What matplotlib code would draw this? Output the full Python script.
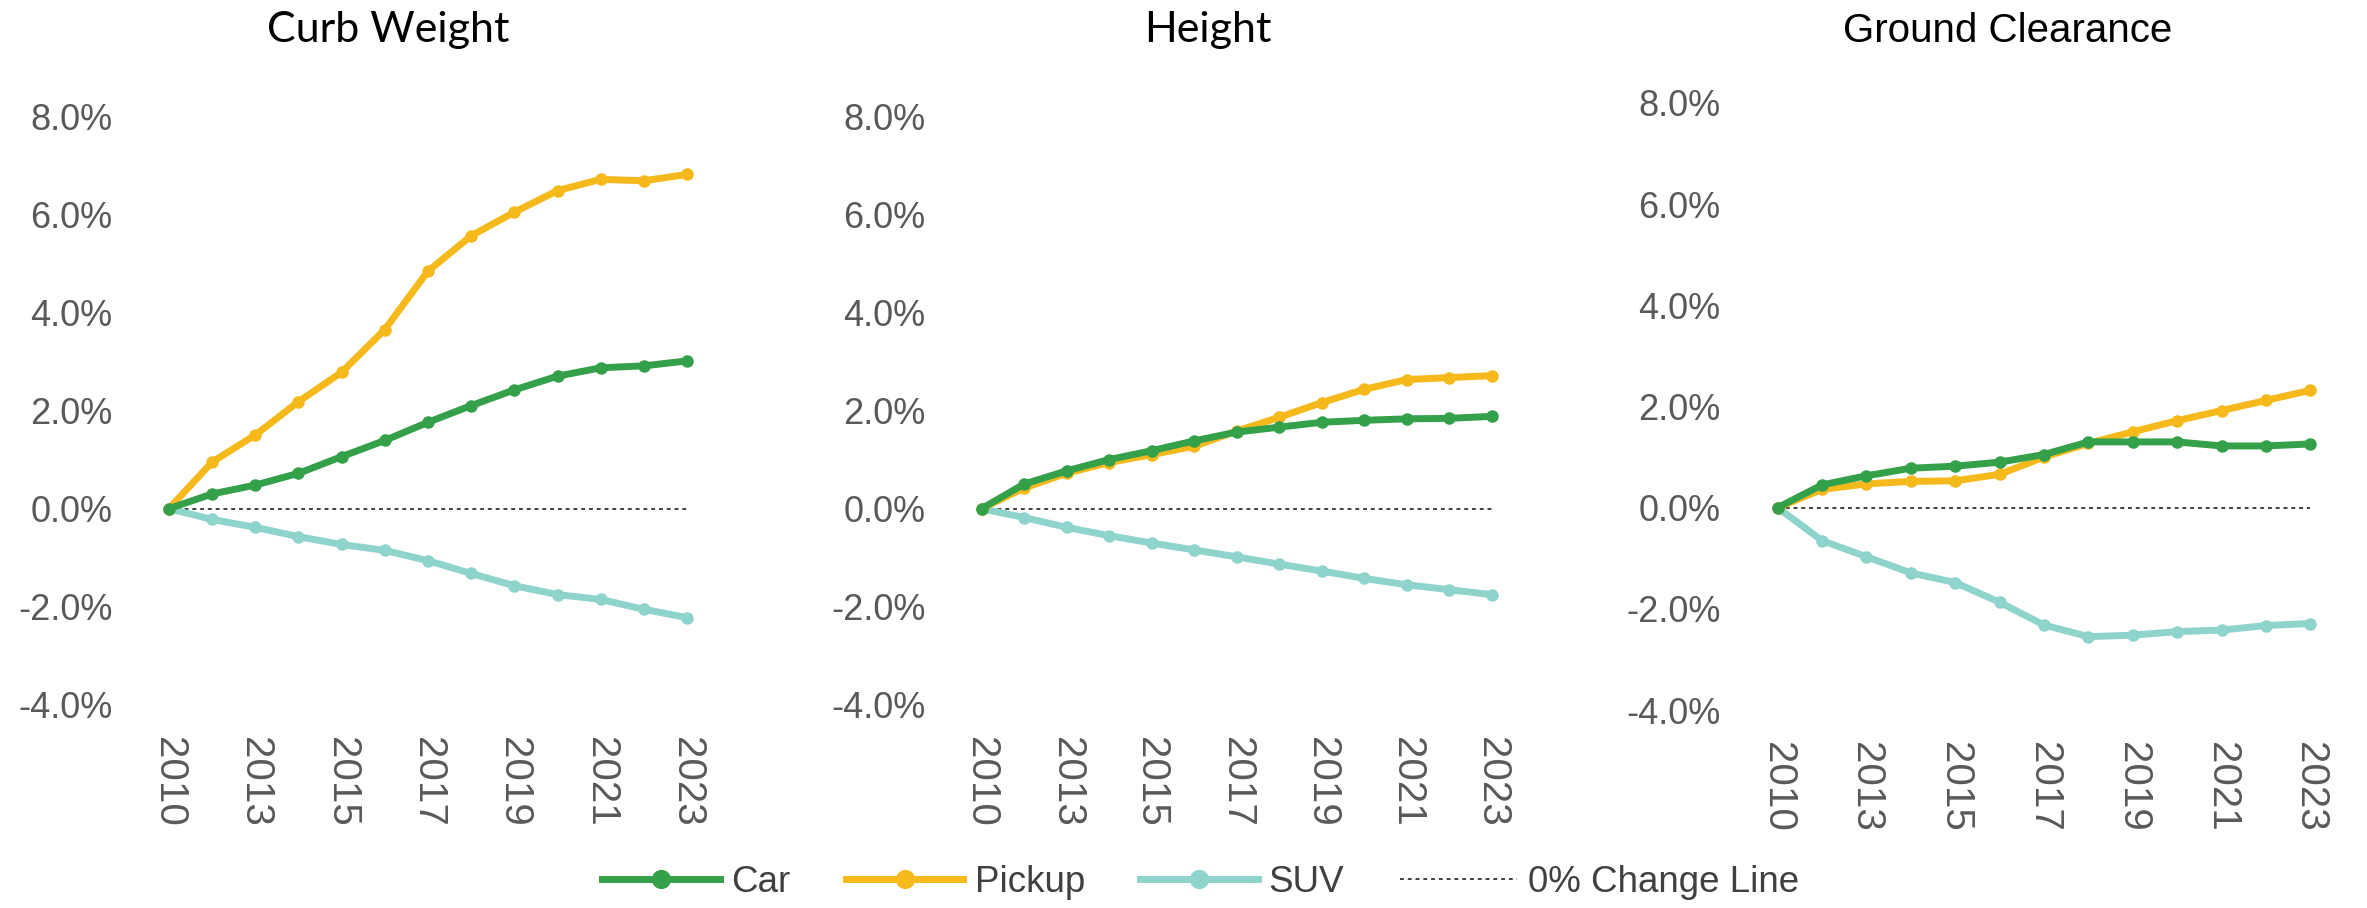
import matplotlib.pyplot as plt

# categories (2011 is not in the data)
years = ["2010", "2012", "2013", "2014", "2015", "2016", "2017",
         "2018", "2019", "2020", "2021", "2022", "2023"]

# percent change vs 2010
curb_car = [0, 0.30, 0.48, 0.72, 1.06, 1.39, 1.76, 2.10, 2.42, 2.70, 2.87, 2.91, 3.01]
curb_pickup = [0, 0.95, 1.50, 2.18, 2.78, 3.65, 4.84, 5.56, 6.04, 6.48, 6.71, 6.68, 6.81]
curb_suv = [0, -0.22, -0.38, -0.57, -0.73, -0.85, -1.06, -1.32, -1.57, -1.75, -1.85, -2.05, -2.22]

height_car = [0, 0.50, 0.77, 1.00, 1.18, 1.38, 1.56, 1.66, 1.76, 1.80, 1.83, 1.84, 1.88]
height_pickup = [0, 0.42, 0.72, 0.94, 1.10, 1.27, 1.58, 1.86, 2.16, 2.43, 2.63, 2.67, 2.71]
height_suv = [0, -0.18, -0.38, -0.55, -0.70, -0.84, -0.98, -1.13, -1.27, -1.42, -1.55, -1.65, -1.75]

ground_car = [0, 0.45, 0.63, 0.78, 0.82, 0.90, 1.05, 1.30, 1.30, 1.30, 1.22, 1.22, 1.26]
ground_pickup = [0, 0.36, 0.47, 0.52, 0.53, 0.66, 1.00, 1.27, 1.50, 1.72, 1.92, 2.12, 2.32]
ground_suv = [0, -0.65, -0.97, -1.29, -1.48, -1.87, -2.32, -2.55, -2.52, -2.45, -2.42, -2.33, -2.29]

titles = ["Curb Weight", "Height", "Ground Clearance"]
title_fonts = ["Lato", "Lato", "Liberation Sans"]
panels = [
    (curb_car, curb_pickup, curb_suv),
    (height_car, height_pickup, height_suv),
    (ground_car, ground_pickup, ground_suv),
]
yticks = [-4, -2, 0, 2, 4, 6, 8]

GREEN = "#34a04a"
GOLD = "#f6b91c"
TEAL = "#8fd3cd"
GRAY = "#595959"

W, H = 2367, 908
fig = plt.figure(figsize=(W / 100, H / 100), dpi=100)
plt.rcParams["font.family"] = ["Liberation Sans", "DejaVu Sans"]

# axes boxes in pixels: left, right, top(8%), bottom(-4%)
boxes = [(143, 713, 116, 705), (956, 1517, 116, 705), (1751, 2337, 103, 710)]
title_x = [388, 1208, 2008]
title_size = [31, 31, 29]

for i, (left, right, top, bottom) in enumerate(boxes):
    ax = fig.add_axes([left / W, 1 - bottom / H, (right - left) / W, (bottom - top) / H])
    car, pickup, suv = panels[i]
    x = list(range(len(years)))
    ax.plot(x, [0] * len(x), color="#404040", lw=1.4, ls=(0, (2, 2)), zorder=1,
            label="0% Change Line")
    ax.plot(x, suv, color=TEAL, lw=5, marker="o", ms=8, label="SUV", zorder=2)
    ax.plot(x, pickup, color=GOLD, lw=5, marker="o", ms=8, label="Pickup", zorder=3)
    ax.plot(x, car, color=GREEN, lw=5, marker="o", ms=8, label="Car", zorder=4)
    ax.set_xlim(-0.6, len(years) - 0.4)
    ax.set_ylim(-4, 8)
    ax.set_yticks(yticks)
    ax.set_yticklabels([f"{v:.1f}%" for v in yticks], color=GRAY, fontsize=26)
    ax.set_xticks(x[::2])
    ax.set_xticklabels(years[::2], rotation=270, color=GRAY, fontsize=29)
    ax.tick_params(axis="y", length=0, pad=22)
    ax.tick_params(axis="x", length=0, pad=23)
    for s in ax.spines.values():
        s.set_visible(False)
    fig.text(title_x[i] / W, 1 - 42 / H, titles[i], ha="center", va="baseline",
             fontsize=title_size[i], family=title_fonts[i], color="black")
    if i == 0:
        handles, labels = ax.get_legend_handles_labels()

order = [3, 2, 1, 0]
fig.legend([handles[k] for k in order], [labels[k] for k in order],
           loc="center", bbox_to_anchor=(1201 / W, 1 - 882 / H), ncol=4,
           frameon=False, fontsize=26.5, handlelength=3.2, columnspacing=1.5,
           handletextpad=0.3, labelcolor="#404040", markerscale=1.6)

fig.savefig("out.png", dpi=100)
